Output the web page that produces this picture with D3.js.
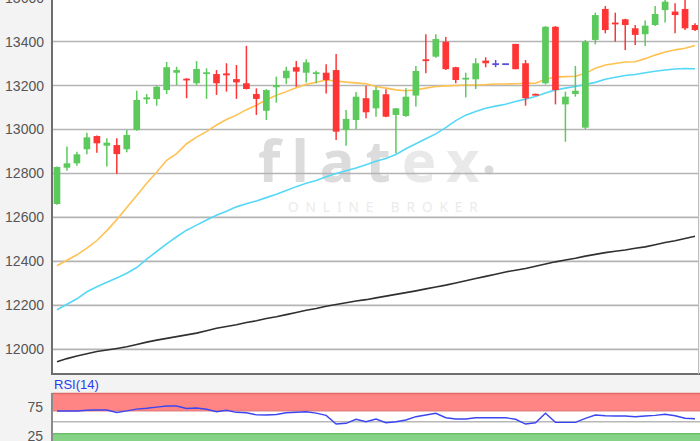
<!DOCTYPE html>
<html>
<head>
<meta charset="utf-8">
<script src="https://cdn.jsdelivr.net/npm/d3@7"></script>
<style>
body { margin: 0; background: #f3f3f3; }
svg { display: block; font-family: "Liberation Sans", Arial, sans-serif; }
</style>
</head>
<body>
<div id="chart"></div>
<script>
// daily candles
var opens  = [12661,12826,12846,12910,12970,12926,12929,12910,12997,13137,13138,13179,13258,13231,13210,13252,13252,13255,13229,13210,13161,13085,13192,13233,13283,13258,13255,13258,13270,12997,13043,13142,13096,13160,13066,13061,13154,13319,13331,13399,13283,13228,13228,13313,13301,13301,13389,13301,13162,13210,13467,13114,13161,13008,13407,13548,13486,13501,13460,13433,13475,13543,13536,13548,13475];
var highs  = [12832,12922,12899,12985,12972,12960,12960,12997,13176,13161,13198,13307,13285,13233,13311,13278,13270,13301,13293,13380,13187,13183,13240,13285,13311,13319,13267,13296,13343,13088,13170,13198,13194,13183,13098,13187,13289,13433,13433,13420,13285,13258,13324,13328,13316,13301,13389,13316,13163,13470,13470,13172,13289,13407,13531,13561,13531,13503,13475,13495,13561,13595,13574,13600,13483];
var lows   = [12658,12812,12835,12887,12894,12831,12797,12896,12994,13116,13108,13161,13202,13142,13202,13139,13157,13172,13139,13182,13066,13043,13122,13207,13194,13214,13210,13164,12952,12926,13002,13051,13058,13055,12892,13058,13104,13255,13326,13270,13210,13146,13184,13283,13283,13301,13274,13108,13155,13205,13114,12944,13149,13001,13387,13437,13399,13361,13384,13380,13470,13486,13437,13452,13448];
var closes = [12829,12846,12887,12964,12937,12940,12888,12975,13134,13146,13194,13283,13270,13225,13275,13260,13210,13246,13214,13184,13139,13179,13202,13267,13263,13305,13260,13225,12990,13048,13149,13078,13179,13058,13096,13149,13266,13311,13411,13274,13225,13235,13301,13301,13301,13301,13274,13142,13157,13467,13179,13149,13176,13399,13520,13452,13480,13475,13430,13472,13525,13581,13520,13460,13452];

// moving averages
var maShort = [12380,12405,12430,12460,12495,12540,12590,12645,12700,12755,12805,12860,12890,12935,12965,12990,13020,13045,13065,13090,13110,13135,13155,13172,13190,13205,13215,13225,13220,13215,13212,13208,13195,13188,13180,13176,13180,13188,13195,13198,13200,13202,13202,13204,13207,13207,13208,13210,13210,13228,13238,13240,13242,13255,13278,13293,13300,13307,13308,13322,13338,13352,13362,13369,13382];
var maMid   = [12180,12205,12230,12262,12285,12305,12325,12346,12372,12410,12445,12480,12512,12542,12565,12588,12610,12628,12648,12662,12675,12690,12705,12722,12740,12755,12768,12785,12800,12812,12825,12840,12855,12868,12886,12912,12935,12958,12980,13008,13040,13065,13082,13096,13106,13115,13127,13138,13150,13166,13180,13188,13195,13205,13214,13228,13237,13245,13250,13258,13265,13270,13275,13277,13276];
var maLong  = [11944,11958,11970,11980,11990,11997,12004,12012,12022,12033,12042,12050,12058,12066,12074,12085,12096,12104,12112,12122,12130,12140,12148,12158,12168,12178,12186,12196,12204,12212,12220,12226,12234,12242,12250,12258,12266,12275,12284,12292,12302,12312,12322,12332,12342,12352,12360,12368,12378,12388,12398,12406,12414,12424,12432,12440,12446,12452,12460,12466,12476,12486,12494,12504,12514];

// RSI(14)
var rsi = [68.7,68.7,68.7,70,70.4,70.4,66,69,72,73.4,75.5,77.4,77.4,73,73.9,71.7,67.5,70,66.4,65.7,62,61.7,62.5,65.7,66.5,67.5,65,61,46,47.3,54.3,50,54.8,48.3,50,53,58.8,61.7,64.7,57,54.8,54.8,57,57,57,57,54.3,46,48.3,64.7,49,49,49,56,61.7,60.5,60,60,58.8,60,61,63,60.5,56,55.3];

var priceTicks = [12000,12200,12400,12600,12800,13000,13200,13400,13600];
var rsiTicks = [25,75];

var W = 700, H = 441;
var left = 52, right = 698, plotBottom = 374, rsiTop = 393;

var svg = d3.select("#chart").append("svg")
    .attr("width", W).attr("height", H);

svg.append("rect").attr("width", W).attr("height", H).attr("fill", "#f3f3f3");

var idx = d3.range(opens.length);
var x = d3.scaleBand().domain(idx).range([left, 700]).paddingInner(0.33).paddingOuter(0.165);
function cx(i) { return x(i) + x.bandwidth() / 2; }

var y = d3.scaleLinear().domain([11888, 13600]).range([plotBottom, -2.5]);

// main plot background
svg.append("rect")
    .attr("x", left).attr("y", 0)
    .attr("width", right - left).attr("height", plotBottom)
    .attr("fill", "#ffffff");

svg.append("clipPath").attr("id", "clipMain")
  .append("rect").attr("x", left).attr("y", 0).attr("width", right - left).attr("height", plotBottom);

// watermark
var wm = svg.append("g").attr("clip-path", "url(#clipMain)");
var logo = wm.append("text")
    .attr("x", 258).attr("y", 182)
    .attr("font-family", "'Noto Sans', 'DejaVu Sans', sans-serif")
    .attr("font-size", 58)
    .attr("font-weight", "bold")
    .attr("letter-spacing", 11);
logo.append("tspan").attr("fill", "#dcdcdc").text("flat");
logo.append("tspan").attr("fill", "#e9e9e9").text("ex");
wm.append("circle").attr("cx", 489).attr("cy", 170).attr("r", 4.5).attr("fill", "#dadada");
wm.append("text")
    .attr("x", 288).attr("y", 212)
    .attr("font-family", "'Noto Sans', 'DejaVu Sans', sans-serif")
    .attr("font-size", 13.5)
    .attr("letter-spacing", 7)
    .attr("fill", "#ebebeb")
    .text("ONLINE BROKER");

// grid
svg.append("g").selectAll("line")
    .data(priceTicks.filter(function (d) { return y(d) > 0; }))
    .enter().append("line")
    .attr("x1", left).attr("x2", right)
    .attr("y1", function (d) { return y(d); })
    .attr("y2", function (d) { return y(d); })
    .attr("stroke", "#b4b4b4").attr("stroke-width", 1.6);

// tick labels
svg.append("g").selectAll("text")
    .data(priceTicks)
    .enter().append("text")
    .attr("x", 44)
    .attr("y", function (d) { return y(d); })
    .attr("dy", "0.36em")
    .attr("text-anchor", "end")
    .attr("font-size", 14)
    .attr("fill", "#555")
    .text(function (d) { return d; });

var plot = svg.append("g").attr("clip-path", "url(#clipMain)");

// moving averages
function maLine(arr) {
    return d3.line()
        .x(function (d, i) { return cx(i); })
        .y(function (d) { return y(d); })(arr);
}
plot.append("path").attr("d", maLine(maLong)).attr("fill", "none").attr("stroke", "#303030").attr("stroke-width", 1.6);
plot.append("path").attr("d", maLine(maMid)).attr("fill", "none").attr("stroke", "#55d8f7").attr("stroke-width", 1.6);
plot.append("path").attr("d", maLine(maShort)).attr("fill", "none").attr("stroke", "#ffc252").attr("stroke-width", 1.6);

// candles
function candleColor(i) {
    if (closes[i] > opens[i]) return "#5cc95c";
    if (closes[i] < opens[i]) return "#ff3535";
    return "#5a4fdc";
}
var candle = plot.selectAll("g.candle")
    .data(idx)
    .enter().append("g").attr("class", "candle");

candle.append("line")
    .attr("x1", cx).attr("x2", cx)
    .attr("y1", function (i) { return y(highs[i]); })
    .attr("y2", function (i) { return y(lows[i]); })
    .attr("stroke", candleColor)
    .attr("stroke-width", 1.5);

candle.append("rect")
    .attr("x", function (i) { return x(i); })
    .attr("width", x.bandwidth())
    .attr("y", function (i) { return y(Math.max(opens[i], closes[i])); })
    .attr("height", function (i) { return Math.max(1.8, Math.abs(y(opens[i]) - y(closes[i]))); })
    .attr("fill", candleColor);

// frame of main plot
svg.append("line").attr("x1", left).attr("x2", left).attr("y1", 0).attr("y2", plotBottom + 1)
    .attr("stroke", "#6e6e6e").attr("stroke-width", 2);
svg.append("line").attr("x1", left).attr("x2", 700).attr("y1", plotBottom).attr("y2", plotBottom)
    .attr("stroke", "#6e6e6e").attr("stroke-width", 2);
svg.append("line").attr("x1", right + 0.5).attr("x2", right + 0.5).attr("y1", 0).attr("y2", plotBottom)
    .attr("stroke", "#bdbdbd").attr("stroke-width", 1);

// RSI panel
var yr = d3.scaleLinear().domain([0, 100]).range([450.5, rsiTop]);

svg.append("rect").attr("x", left).attr("y", rsiTop).attr("width", 700 - left).attr("height", H - rsiTop)
    .attr("fill", "#ffffff");
svg.append("rect").attr("x", left).attr("y", yr(100)).attr("width", 700 - left).attr("height", yr(70) - yr(100))
    .attr("fill", "#ff8585");
svg.append("rect").attr("x", left).attr("y", yr(30)).attr("width", 700 - left).attr("height", H - yr(30))
    .attr("fill", "#86d286");
[[100, "#e06a6a"], [70, "#e88080"], [30, "#6cbf6c"]].forEach(function (b) {
    svg.append("line").attr("x1", left).attr("x2", 700)
        .attr("y1", yr(b[0]) + 0.5).attr("y2", yr(b[0]) + 0.5)
        .attr("stroke", b[1]).attr("stroke-width", 1.5);
});
svg.append("line").attr("x1", left).attr("x2", 700)
    .attr("y1", yr(50)).attr("y2", yr(50))
    .attr("stroke", "#b8b8b8").attr("stroke-width", 1.5);

svg.append("path")
    .attr("d", d3.line().x(function (d, i) { return cx(i); }).y(function (d) { return yr(d); })(rsi))
    .attr("fill", "none").attr("stroke", "#3b46f0").attr("stroke-width", 1.4);

svg.append("line").attr("x1", left).attr("x2", left).attr("y1", rsiTop).attr("y2", H)
    .attr("stroke", "#8a8a8a").attr("stroke-width", 2);

svg.append("g").selectAll("text")
    .data(rsiTicks)
    .enter().append("text")
    .attr("x", 43)
    .attr("y", function (d) { return yr(d); })
    .attr("dy", "0.36em")
    .attr("text-anchor", "end")
    .attr("font-size", 14)
    .attr("fill", "#555")
    .text(function (d) { return d; });

svg.append("text")
    .attr("x", 54).attr("y", 389)
    .attr("font-size", 13)
    .attr("fill", "#2a3cf0")
    .text("RSI(14)");
</script>
</body>
</html>
